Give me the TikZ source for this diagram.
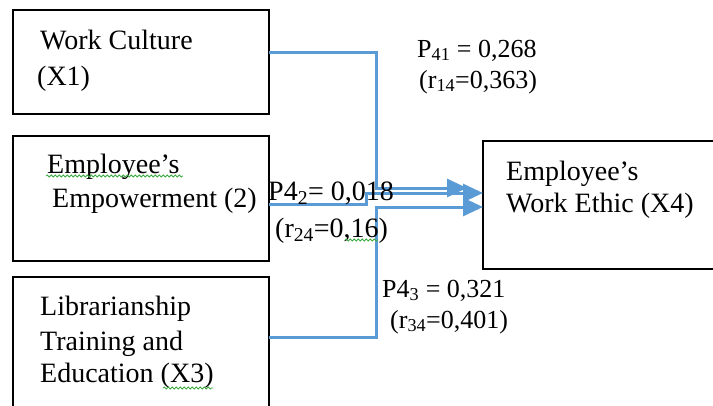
\documentclass[tikz,border=0pt]{standalone}
\usepackage{fontspec}
\setmainfont{Liberation Serif}
\usetikzlibrary{arrows.meta,decorations.pathmorphing}
\definecolor{lineblue}{HTML}{5B9BD5}
\definecolor{squig}{HTML}{3CAA3C}
\begin{document}
\begin{tikzpicture}[x=1pt,y=-1pt,
  box/.style={draw=black,line width=1.8pt,inner sep=0pt,outer sep=0pt,anchor=north west},
  boxtext/.style={anchor=base west,inner sep=0pt,font=\fontsize{28}{34}\selectfont},
  lbl/.style={anchor=base west,inner sep=0pt,font=\fontsize{26}{30}\selectfont},
  conn/.style={draw=lineblue,line width=3pt,-{Triangle[length=20pt,width=18pt]}},
  wavy/.style={draw=squig,line width=0.8pt,decorate,decoration={snake,segment length=4pt,amplitude=1pt}}]
\useasboundingbox (0,0) rectangle (713,405);
\clip (0,0) rectangle (713,405);
\fill[white] (0,0) rectangle (713,405);
% boxes
\node[box,minimum width=256pt,minimum height=104pt] (b1) at (13,10) {};
\node[box,minimum width=256pt,minimum height=125pt] (b2) at (13,136) {};
\node[box,minimum width=256pt,minimum height=150pt] (b3) at (13,277) {};
\node[box,minimum width=250pt,minimum height=128pt] (b4) at (483,141) {};
% box texts
\node[boxtext] (t1a) at (40,49) {Work Culture};
\node[boxtext] (t1b) at (37,85) {(X1)};
\node[boxtext] (t2a) at (47,173) {Employee’s};
\node[boxtext] (t2b) at (52,207) {Empowerment (2)};
\node[boxtext] (t3a) at (40,315) {Librarianship};
\node[boxtext] (t3b) at (40,350) {Training and};
\node[boxtext] (t3c) at (40,382) {Education (X3)};
\node[boxtext] (t4a) at (506,180) {Employee’s};
\node[boxtext] (t4b) at (506,212) {Work Ethic (X4)};
% turning points
\coordinate (j1) at (376,52);
\coordinate (k1) at (376,188);
\coordinate (e1) at (467,188);
\coordinate (j2) at (366,204);
\coordinate (k2) at (366,193);
\coordinate (j3) at (376,337);
\coordinate (k3) at (376,207);
% connectors
\draw[conn] (b1.east |- j1) -- (j1) -- (k1) -- (e1);
\draw[conn] (b2.east |- j2) -- (j2) -- (k2) -- (b4.west |- k2);
\draw[conn] (b3.east |- j3) -- (j3) -- (k3) -- (b4.west |- k3);
% labels
\node[lbl] (p41) at (417,57) {P\textsubscript{41} = 0,268};
\node[lbl] (r14) at (419,88) {(r\textsubscript{14}=0,363)};
\node[lbl,font=\fontsize{28}{32}\selectfont] (p42) at (268,200) {P4\textsubscript{2}= 0,018};
\node[lbl,font=\fontsize{28}{32}\selectfont] (r24) at (275,237) {(r\textsubscript{24}=0,16)};
\node[lbl] (p43) at (382,297) {P4\textsubscript{3} = 0,321};
\node[lbl] (r34) at (390,328) {(r\textsubscript{34}=0,401)};
% spell-check squiggles
\draw[wavy] (46,176) -- (183,176);
\draw[wavy] (345,240) -- (378,240);
\draw[wavy] (163,388) -- (213,388);
\end{tikzpicture}
\end{document}
